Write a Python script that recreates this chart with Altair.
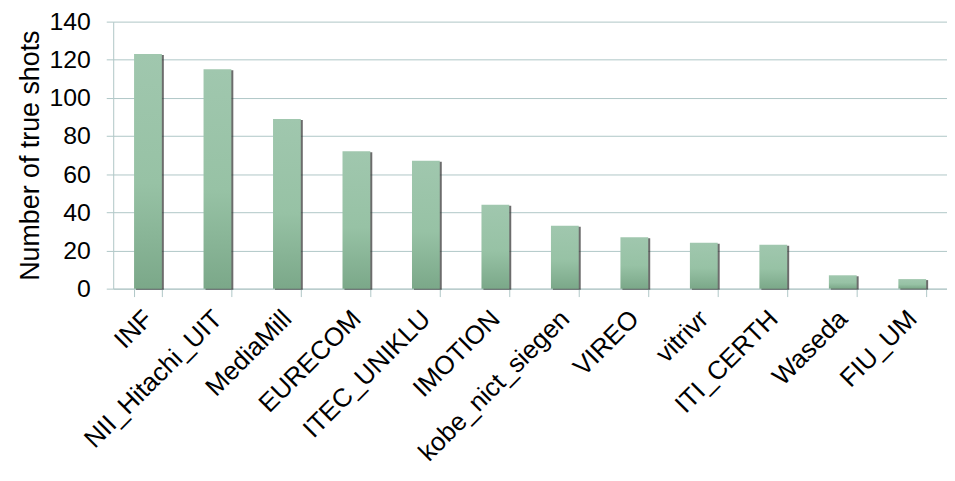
import altair as alt
import pandas as pd

teams = ["INF", "NII_Hitachi_UIT", "MediaMill", "EURECOM", "ITEC_UNIKLU", "IMOTION",
         "kobe_nict_siegen", "VIREO", "vitrivr", "ITI_CERTH", "Waseda", "FIU_UM"]
shots = [123, 115, 89, 72, 67, 44, 33, 27, 24, 23, 7, 5]
y_ticks = [0, 20, 40, 60, 80, 100, 120, 140]

df = pd.DataFrame({"team": teams, "shots": shots})

FONT = "Liberation Sans"
GRID = "#AFC7C7"

grad = alt.LinearGradient(
    gradient="linear",
    stops=[
        alt.GradientStop(color="#A0C7AE", offset=0),
        alt.GradientStop(color="#97C2A5", offset=0.55),
        alt.GradientStop(color="#7BA889", offset=1),
    ],
    x1=0, x2=0, y1=0, y2=1,
)

x_enc = alt.X(
    "team:N", sort=teams,
    scale=alt.Scale(paddingInner=0.6, paddingOuter=0.3),
    axis=alt.Axis(
        title=None, labelAngle=-45, labelAlign="right", labelBaseline="middle",
        labelFontSize=26, labelFont=FONT, labelColor="black", labelLimit=400,
        tickBand="extent", tickSize=8, tickColor=GRID, domainColor=GRID,
        labelPadding=18, grid=False,
    ),
)
y_enc = alt.Y(
    "shots:Q",
    scale=alt.Scale(domain=[0, 140], nice=False),
    axis=alt.Axis(
        values=y_ticks, title="Number of true shots",
        titleFontSize=27, titleFont=FONT, titleFontWeight="normal", titleColor="black",
        titlePadding=5,
        labelFontSize=25, labelFont=FONT, labelColor="black", labelPadding=16,
        tickSize=7, tickColor=GRID, domainColor=GRID, gridColor=GRID,
    ),
)

shadow = alt.Chart(df).mark_bar(color="#2e2e2e", opacity=0.7, xOffset=2, yOffset=1).encode(
    x=x_enc, y=y_enc
)
bars = alt.Chart(df).mark_bar(color=grad).encode(x=x_enc, y=y_enc)

chart = alt.layer(shadow, bars).properties(
    width=840, height=269,
    autosize=alt.AutoSizeParams(type="none"),
    padding={"left": 106, "top": 12, "right": 0, "bottom": 182},
).configure_view(stroke=None)

chart.save("out.html", embed_options={"renderer": "svg", "actions": False})
